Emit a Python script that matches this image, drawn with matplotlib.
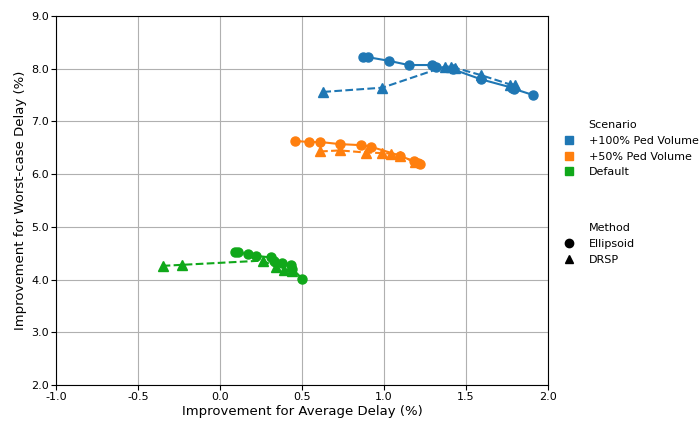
import numpy as np
import matplotlib.pyplot as plt
from matplotlib.lines import Line2D

# Values
scenarios = ['+100% Ped Volume', '+50% Ped Volume', 'Default']
colors = ['#1f77b4', '#ff7f0e', '#10a81a']

ell_x = {
    '+100% Ped Volume': [0.87, 0.90, 1.03, 1.15, 1.29, 1.32, 1.42, 1.59, 1.78, 1.79, 1.91],
    '+50% Ped Volume': [0.46, 0.54, 0.61, 0.73, 0.86, 0.92, 1.10, 1.18, 1.21, 1.22],
    'Default': [0.09, 0.11, 0.17, 0.22, 0.31, 0.33, 0.38, 0.43, 0.44, 0.50],
}
ell_y = {
    '+100% Ped Volume': [8.23, 8.22, 8.15, 8.07, 8.07, 8.03, 7.99, 7.80, 7.64, 7.62, 7.50],
    '+50% Ped Volume': [6.63, 6.61, 6.61, 6.57, 6.55, 6.52, 6.35, 6.24, 6.21, 6.19],
    'Default': [4.53, 4.52, 4.48, 4.45, 4.42, 4.36, 4.31, 4.27, 4.21, 4.02],
}
drsp_x = {
    '+100% Ped Volume': [0.63, 0.99, 1.37, 1.41, 1.43, 1.59, 1.77, 1.80],
    '+50% Ped Volume': [0.61, 0.73, 0.89, 0.99, 1.04, 1.10, 1.19],
    'Default': [-0.35, -0.23, 0.26, 0.34, 0.39, 0.44],
}
drsp_y = {
    '+100% Ped Volume': [7.56, 7.64, 8.04, 8.04, 8.02, 7.88, 7.70, 7.69],
    '+50% Ped Volume': [6.43, 6.45, 6.41, 6.40, 6.39, 6.35, 6.23],
    'Default': [4.26, 4.28, 4.36, 4.24, 4.19, 4.17],
}
xticks = [-1.0, -0.5, 0.0, 0.5, 1.0, 1.5, 2.0]
yticks = [2.0, 3.0, 4.0, 5.0, 6.0, 7.0, 8.0, 9.0]

fig = plt.figure(figsize=(6.99, 4.21), dpi=100)
ax = fig.add_axes([56/699, 1-385/421, 492/699, 369/421])

for s, c in zip(scenarios, colors):
    ax.plot(ell_x[s], ell_y[s], '-', color=c, marker='o', markersize=6.5, lw=1.5, zorder=3)
    ax.plot(drsp_x[s], drsp_y[s], '--', color=c, marker='^', markersize=6.5, lw=1.5, zorder=3)

ax.set_xlim(-1.0, 2.0)
ax.set_ylim(2.0, 9.0)
ax.set_xticks(xticks)
ax.set_yticks(yticks)
ax.set_xticklabels([f'{v:.1f}' for v in xticks])
ax.set_yticklabels([f'{v:.1f}' for v in yticks])
ax.grid(True, color='#b0b0b0', lw=0.8)
ax.set_axisbelow(True)
ax.set_xlabel('Improvement for Average Delay (%)', fontsize=9.5, labelpad=2)
ax.set_ylabel('Improvement for Worst-case Delay (%)', fontsize=9.5, labelpad=3)
ax.tick_params(labelsize=8, pad=1.5, length=3.5)

blank = Line2D([], [], linestyle='none', marker='')
h1 = [blank] + [Line2D([], [], linestyle='none', marker='s', color=c, markersize=6) for c in colors]
l1 = ['Scenario'] + scenarios
leg1 = fig.legend(h1, l1, loc='upper left', bbox_to_anchor=(553/699, 1-116/421),
                  frameon=False, fontsize=8, handletextpad=0.8, borderaxespad=0)
h2 = [blank,
      Line2D([], [], linestyle='none', marker='o', color='black', markersize=6),
      Line2D([], [], linestyle='none', marker='^', color='black', markersize=6)]
l2 = ['Method', 'Ellipsoid', 'DRSP']
fig.legend(h2, l2, loc='upper left', bbox_to_anchor=(553/699, 1-219/421),
           frameon=False, fontsize=8, handletextpad=0.8, borderaxespad=0)

fig.savefig('out.png', dpi=100)
